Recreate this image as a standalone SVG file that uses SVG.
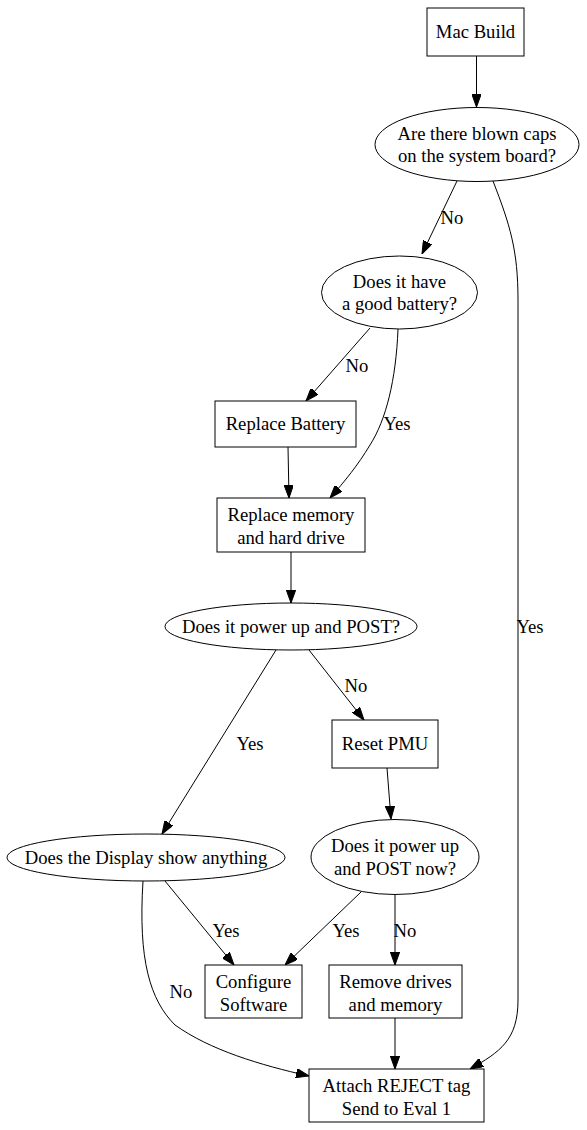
<svg xmlns="http://www.w3.org/2000/svg" width="587" height="1130" viewBox="0 0 587 1130">
<defs>
<style>
.n{fill:#fff;stroke:#000;stroke-width:1}
.t{font-family:"Liberation Serif","Times New Roman",serif;font-size:18.67px;fill:#000;text-anchor:middle}
.e{fill:none;stroke:#000;stroke-width:1;marker-end:url(#ah)}
</style>
<marker id="ah" viewBox="0 0 10 10" refX="10" refY="5" markerWidth="13" markerHeight="9.4" markerUnits="userSpaceOnUse" orient="auto" preserveAspectRatio="none">
<path d="M0,0 L10,5 L0,10 z" fill="#000" stroke="#000"/>
</marker>
</defs>
<rect width="587" height="1130" fill="#fff"/>
<g id="connectors">
<path class="e" d="M476.5,56 L476.5,107"/>
<path class="e" d="M457,181 L422,254"/>
<text class="t" x="452" y="224">No</text>
<path class="e" d="M493,181 C510,225 518,250 518,300 L518,1000 C518,1040 500,1052 470,1069"/>
<text class="t" x="530" y="633">Yes</text>
<path class="e" d="M370,328 L306,401"/>
<text class="t" x="357" y="372">No</text>
<path class="e" d="M398,329 C396,380 386,420 370,445 C358,465 345,481 330,498"/>
<text class="t" x="397" y="430">Yes</text>
<path class="e" d="M288,447 L289,498"/>
<path class="e" d="M291,552 L291,603"/>
<path class="e" d="M276,650 L162,834"/>
<text class="t" x="250" y="750">Yes</text>
<path class="e" d="M309,650 L364,720"/>
<text class="t" x="356" y="692">No</text>
<path class="e" d="M387,768 L391,819"/>
<path class="e" d="M165,881 L234,965"/>
<text class="t" x="226" y="937">Yes</text>
<path class="e" d="M361,892 L285,965"/>
<text class="t" x="346" y="937">Yes</text>
<path class="e" d="M395,894 L395,965"/>
<text class="t" x="405" y="937">No</text>
<path class="e" d="M143,881 C138,960 150,1000 175,1025 C210,1050 260,1065 309,1076"/>
<text class="t" x="181" y="998">No</text>
<path class="e" d="M395,1018 L395,1069"/>
</g>
<g id="mac_build">
<rect class="n" x="427" y="8" width="97" height="48"/>
<text class="t" x="475.5" y="38">Mac Build</text>
</g>
<g id="blown_caps">
<ellipse class="n" cx="477" cy="144.5" rx="102" ry="37"/>
<text class="t" x="477" y="139.5">Are there blown caps</text>
<text class="t" x="477" y="162">on the system board?</text>
</g>
<g id="good_battery">
<ellipse class="n" cx="399.5" cy="292.5" rx="78" ry="36.5"/>
<text class="t" x="399.5" y="287.5">Does it have</text>
<text class="t" x="399.5" y="310">a good battery?</text>
</g>
<g id="replace_battery">
<rect class="n" x="215" y="401" width="141" height="46"/>
<text class="t" x="285.5" y="430">Replace Battery</text>
</g>
<g id="replace_memory">
<rect class="n" x="217" y="498" width="148" height="54"/>
<text class="t" x="291" y="521">Replace memory</text>
<text class="t" x="291" y="543.5">and hard drive</text>
</g>
<g id="power_post">
<ellipse class="n" cx="291" cy="626.5" rx="126" ry="23.5"/>
<text class="t" x="291" y="632.5">Does it power up and POST?</text>
</g>
<g id="reset_pmu">
<rect class="n" x="332" y="720" width="106" height="48"/>
<text class="t" x="385" y="750">Reset PMU</text>
</g>
<g id="display">
<ellipse class="n" cx="146" cy="857.5" rx="139" ry="23.5"/>
<text class="t" x="146" y="863.5">Does the Display show anything</text>
</g>
<g id="power_post_now">
<ellipse class="n" cx="395" cy="857" rx="84" ry="37.5"/>
<text class="t" x="395" y="852">Does it power up</text>
<text class="t" x="395" y="874.5">and POST now?</text>
</g>
<g id="configure">
<rect class="n" x="205" y="965" width="97" height="53"/>
<text class="t" x="253.5" y="988">Configure</text>
<text class="t" x="253.5" y="1010.5">Software</text>
</g>
<g id="remove_drives">
<rect class="n" x="329" y="965" width="133" height="53"/>
<text class="t" x="395.5" y="988">Remove drives</text>
<text class="t" x="395.5" y="1010.5">and memory</text>
</g>
<g id="reject">
<rect class="n" x="309" y="1069" width="175" height="53"/>
<text class="t" x="396.5" y="1092">Attach REJECT tag</text>
<text class="t" x="396.5" y="1114.5">Send to Eval 1</text>
</g>
</svg>
